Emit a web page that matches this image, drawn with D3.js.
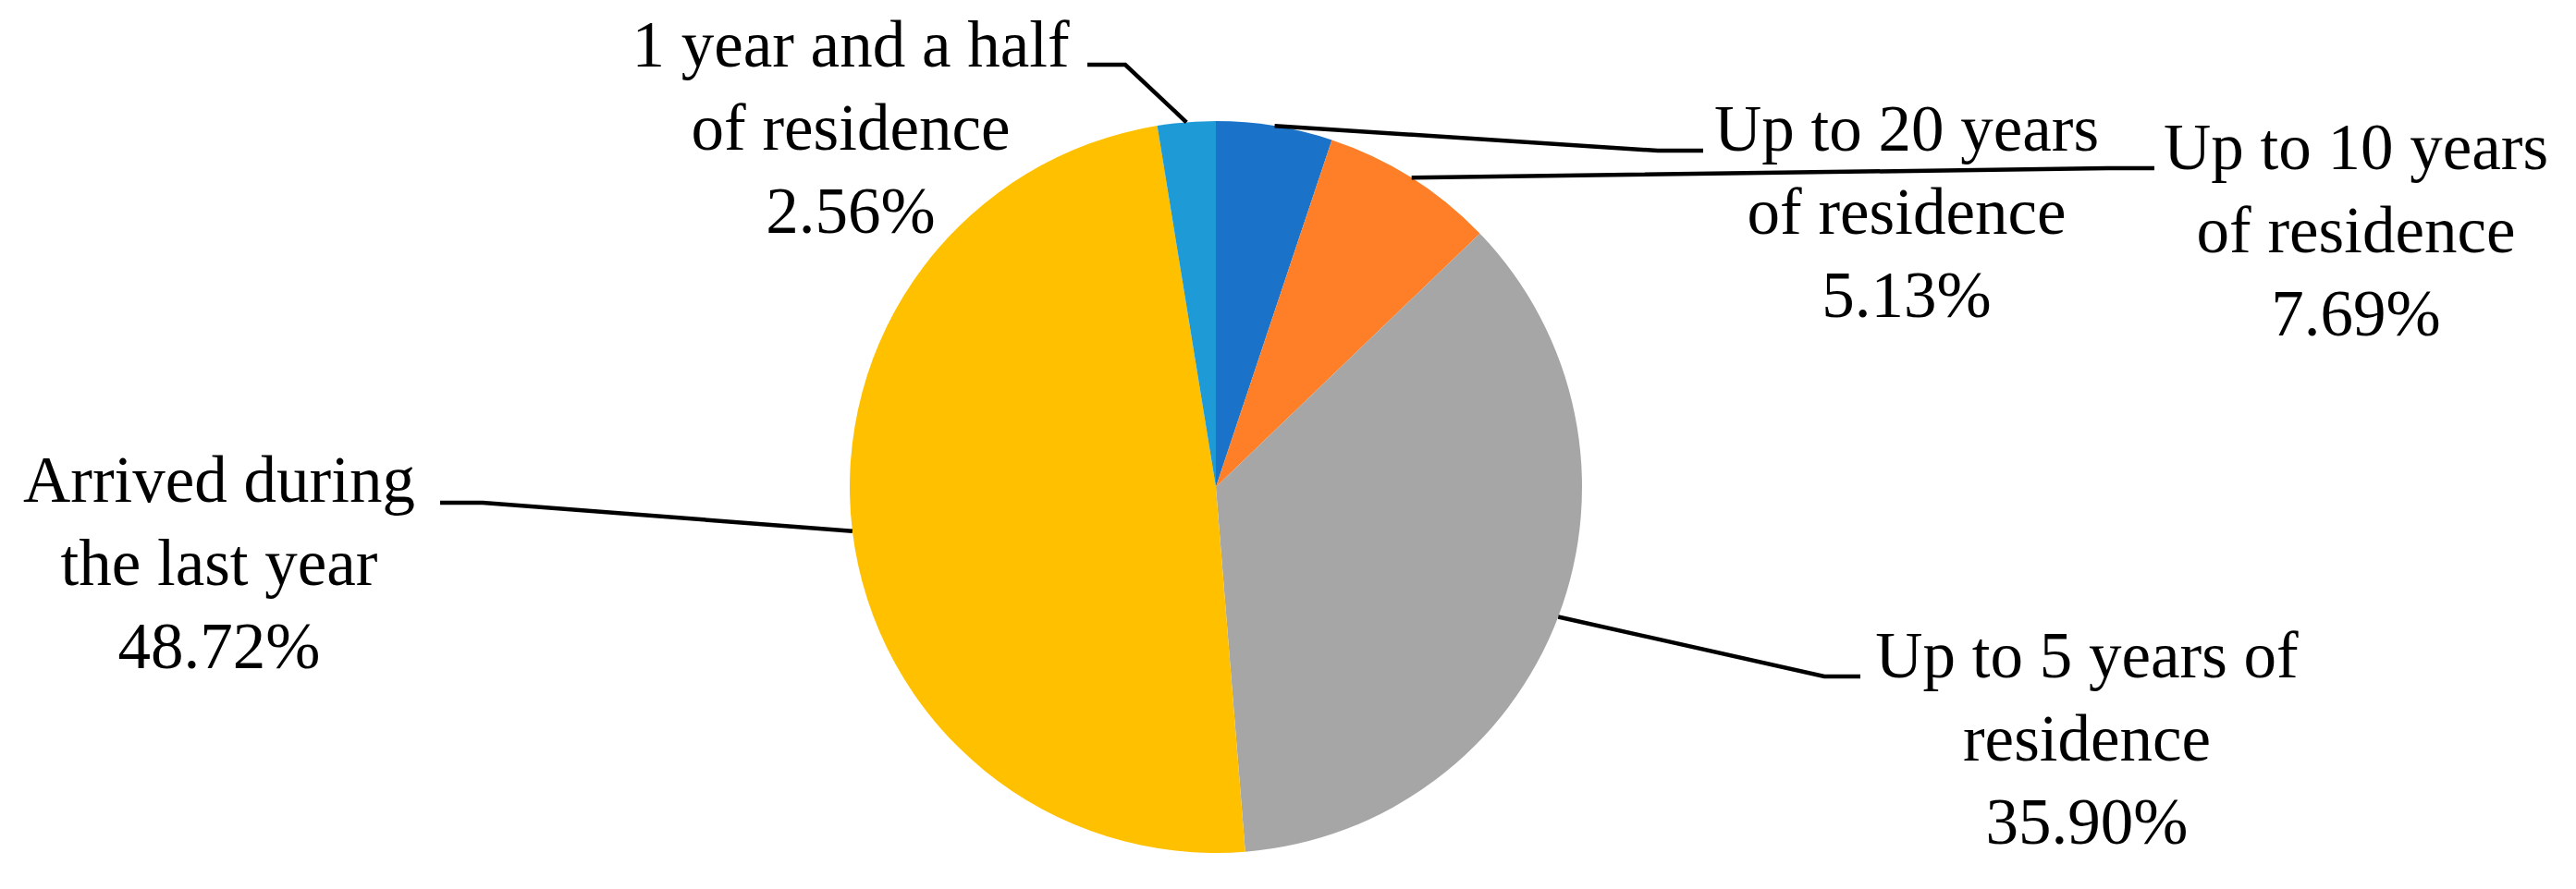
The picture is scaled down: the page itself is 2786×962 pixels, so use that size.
<!DOCTYPE html>
<html>
<head>
<meta charset="utf-8">
<script src="https://cdn.jsdelivr.net/npm/d3@7/dist/d3.min.js"></script>
<style>
  html, body { margin: 0; padding: 0; background: #ffffff; }
  svg { display: block; }
</style>
</head>
<body>
<svg id="chart" width="2786" height="962"></svg>
<script>
// ---- data ----
const categories = [
  "Up to 20 years of residence",
  "Up to 10 years of residence",
  "Up to 5 years of residence",
  "Arrived during the last year",
  "1 year and a half of residence"
];
const values = [5.13, 7.69, 35.90, 48.72, 2.56];
const labelLines = [
  ["Up to 20 years", "of residence"],
  ["Up to 10 years", "of residence"],
  ["Up to 5 years of", "residence"],
  ["Arrived during", "the last year"],
  ["1 year and a half", "of residence"]
];
const colors = ["#1A73C8", "#FE7F27", "#A6A6A6", "#FFC000", "#1E9BD7"];

// ---- layout (label placement, not data) ----
const cx = 1315, cy = 527, R = 396;
const lineGap = 90;
const labelLayout = [
  { x: 2062, y: 163, elbow: [[1793, 163], [1842, 163]] },
  { x: 2548, y: 183, elbow: [[2280, 182], [2330, 182]] },
  { x: 2257, y: 733, elbow: [[1973, 732], [2012, 732]] },
  { x: 237,  y: 543, elbow: [[522, 544], [476, 544]] },
  { x: 920,  y: 72,  elbow: [[1217, 70], [1176, 70]] }
];

const svg = d3.select("#chart");
const g = svg.append("g").attr("transform", `translate(${cx},${cy})`);

const pie = d3.pie().sort(null).value(d => d).startAngle(0).endAngle(2 * Math.PI);
const arcs = pie(values);
const arc = d3.arc().innerRadius(0).outerRadius(R);
const edge = d3.arc().innerRadius(R).outerRadius(R);

g.selectAll("path.slice")
  .data(arcs)
  .join("path")
  .attr("class", "slice")
  .attr("d", arc)
  .attr("fill", (d, i) => colors[i]);

// leader lines
const line = d3.line();
svg.append("g").selectAll("path.leader")
  .data(arcs)
  .join("path")
  .attr("class", "leader")
  .attr("d", (d, i) => {
    const [ex, ey] = edge.centroid(d);
    const pts = [[cx + ex, cy + ey]].concat(labelLayout[i].elbow);
    return line(pts);
  })
  .attr("fill", "none")
  .attr("stroke", "#000")
  .attr("stroke-width", 4.5);

// labels
const fmt = v => d3.format(".2f")(v) + "%";
const labels = svg.append("g")
  .attr("font-family", "'Liberation Serif', 'Times New Roman', serif")
  .attr("font-size", 71)
  .attr("fill", "#000")
  .attr("text-anchor", "middle");

arcs.forEach((d, i) => {
  const L = labelLayout[i];
  const lines = labelLines[i].concat([fmt(values[i])]);
  const t = labels.append("text").attr("x", L.x).attr("y", L.y);
  lines.forEach((s, k) => {
    t.append("tspan").attr("x", L.x).attr("y", L.y + k * lineGap).text(s);
  });
});
</script>
</body>
</html>
